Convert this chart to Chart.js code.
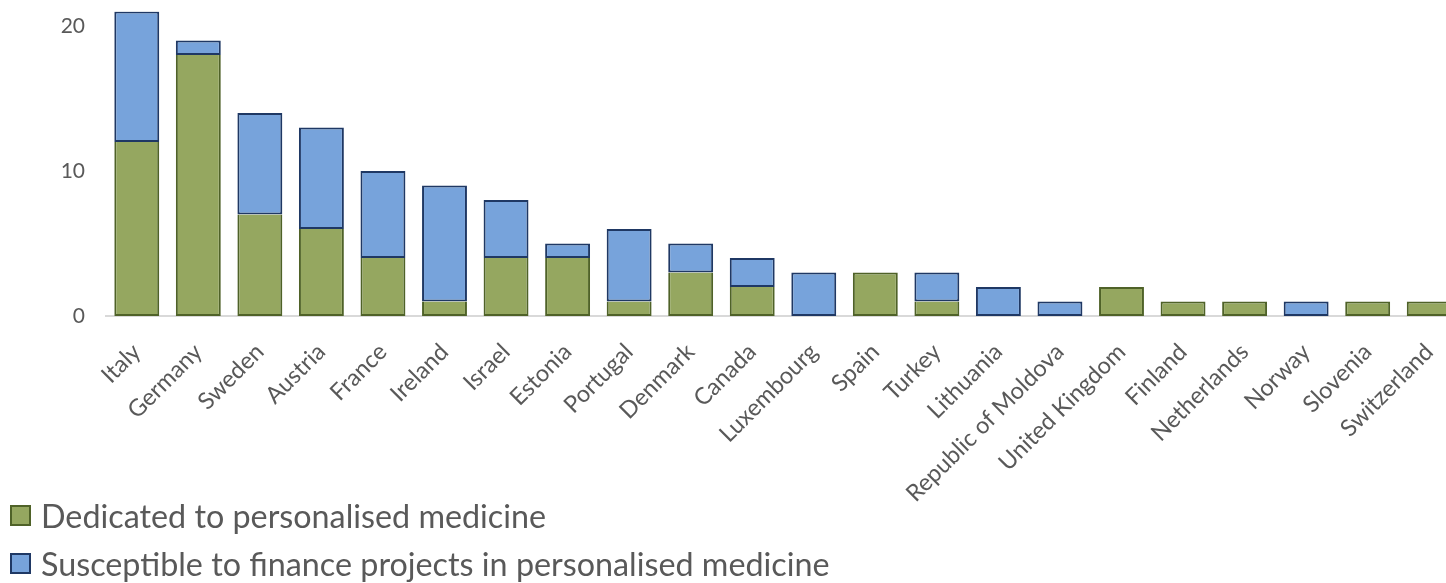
<!DOCTYPE html>
<html>
<head>
<meta charset="utf-8">
<script src="https://cdn.jsdelivr.net/npm/chart.js@4/dist/chart.umd.min.js"></script>
<style>
  html, body { margin:0; padding:0; background:#fff; overflow:hidden; width:1446px; height:583px; }
  #wrap { position:absolute; left:0; top:0; width:1460px; height:583px; }
  #legend { position:absolute; left:10px; top:491px; font-family: Lato, "Open Sans", sans-serif; font-size:32.3px; color:#595959; }
  #legend .item { display:flex; align-items:center; height:48px; white-space:nowrap; }
  #legend .box { width:17px; height:17px; border:2px solid; margin-right:10px; flex:none; }
</style>
</head>
<body>
<div id="wrap"><canvas id="c" width="1460" height="583" style="width:1460px;height:583px"></canvas></div>
<div id="legend"></div>
<script>
const categories = ["Italy","Germany","Sweden","Austria","France","Ireland","Israel","Estonia","Portugal","Denmark","Canada","Luxembourg","Spain","Turkey","Lithuania","Republic of Moldova","United Kingdom","Finland","Netherlands","Norway","Slovenia","Switzerland"];
const dedicated   = [12,18,7,6,4,1,4,4,1,3,2,0,3,1,0,0,2,1,1,0,1,1];
const susceptible = [ 9, 1,7,7,6,8,4,1,5,2,2,3,0,2,2,1,0,0,0,1,0,0];
const yTicks = [0,10,20];
const seriesNames = ["Dedicated to personalised medicine","Susceptible to finance projects in personalised medicine"];

const fills = ["#95A760","#77A3DB"];
const borders = ["#4F6228","#1F3864"];

const chart = new Chart(document.getElementById('c'), {
  type: 'bar',
  data: {
    labels: categories,
    datasets: [
      { label: seriesNames[0], data: dedicated, backgroundColor: fills[0], borderColor: borders[0],
        borderWidth: ctx => ctx.raw ? 2 : 0,
        borderSkipped: ctx => susceptible[ctx.dataIndex] ? 'end' : false },
      { label: seriesNames[1], data: susceptible, backgroundColor: fills[1], borderColor: borders[1],
        borderWidth: ctx => ctx.raw ? 2 : 0, borderSkipped: false }
    ]
  },
  options: {
    responsive: false,
    animation: false,
    devicePixelRatio: 1,
    layout: { padding: { top: 11.5, right: 0, left: 0, bottom: 0 } },
    datasets: { bar: { categoryPercentage: 1, barPercentage: 0.73 } },
    plugins: { legend: { display: false }, tooltip: { enabled: false } },
    scales: {
      x: {
        stacked: true,
        grid: { display: false },
        border: { display: true, color: '#D9D9D9', width: 2 },
        ticks: { autoSkip: false, minRotation: 45, maxRotation: 45, color: '#595959', padding: 14,
                 font: { family: 'Lato', size: 23.5 } },
        afterFit: s => { s.height = 583 - 316; s.paddingLeft = 0; s.paddingRight = 0; s.paddingTop = 0; s.paddingBottom = 0; }
      },
      y: {
        stacked: true,
        min: 0, max: 21,
        grid: { display: false },
        border: { display: false },
        afterBuildTicks: s => { s.ticks = yTicks.map(v => ({ value: v })); },
        ticks: { color: '#595959', padding: 13, font: { family: 'Lato', size: 21 } },
        afterFit: s => { s.width = 106; s.paddingTop = 0; s.paddingBottom = 0; s.paddingLeft = 0; s.paddingRight = 0; }
      }
    }
  }
});

const lg = document.getElementById('legend');
seriesNames.forEach((n, i) => {
  const it = document.createElement('div'); it.className = 'item';
  const b = document.createElement('span'); b.className = 'box';
  b.style.background = fills[i]; b.style.borderColor = borders[i];
  const t = document.createElement('span'); t.textContent = n;
  it.appendChild(b); it.appendChild(t); lg.appendChild(it);
});
</script>
</body>
</html>
